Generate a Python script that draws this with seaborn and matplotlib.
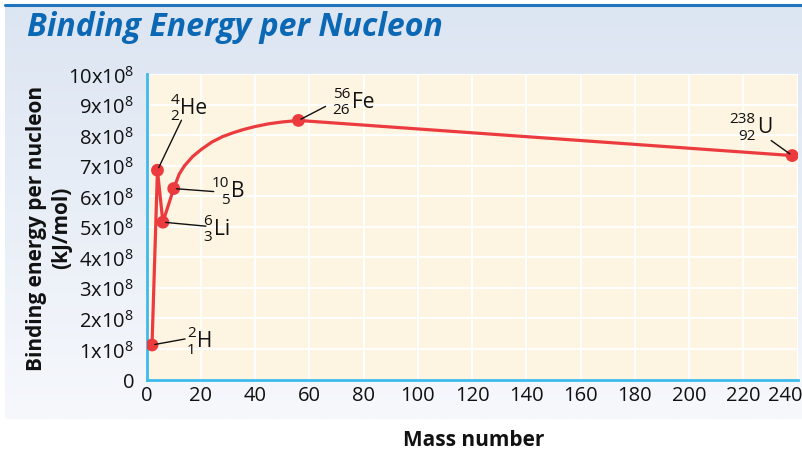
import numpy as np
import pandas as pd
import matplotlib
matplotlib.use("Agg")
import matplotlib.pyplot as plt
from matplotlib.lines import Line2D
from matplotlib.transforms import ScaledTranslation
import seaborn as sns

# Marked isotopes: mass number and binding energy per nucleon (x10^8 kJ/mol)
isotopes = ["H", "He", "Li", "B", "Fe", "U"]
mass_numbers = [2, 4, 6, 10, 56, 238]
atomic_numbers = [1, 2, 3, 5, 26, 92]
energies = [1.13, 6.85, 5.15, 6.25, 8.48, 7.33]

# Traced course of the curve between boron-10 and iron-56
curve_mass = [12, 14, 17, 20, 24, 28, 32, 36, 40, 45, 50]
curve_energy = [6.72, 7.00, 7.30, 7.52, 7.77, 7.95, 8.08, 8.19, 8.28, 8.37, 8.43]

x_ticks = list(range(0, 241, 20))
y_ticks = list(range(0, 11))
y_tick_labels = ["0"] + [f"${v}x10^{{8}}$" for v in range(1, 11)]

title = "Binding Energy per Nucleon"
x_label = "Mass number"
y_label = "Binding energy per nucleon\n(kJ/mol)"

sns.set_theme(style="white")
plt.rcParams["font.family"] = ["Open Sans", "DejaVu Sans"]
plt.rcParams["mathtext.default"] = "regular"

W, H = 803, 452
fig = plt.figure(figsize=(W / 100, H / 100), dpi=100)
fig.patch.set_facecolor("white")


def fx(px):
    return px / W


def fy(py):
    return 1 - py / H


# Gradient panel behind the chart
bg = fig.add_axes([fx(5), fy(420), fx(803 - 5), (420 - 6) / H], zorder=0)
top_c = np.array([220, 229, 242]) / 255
bot_c = np.array([246, 248, 252]) / 255
t = np.linspace(0, 1, 256)[:, None]
grad = (top_c[None, :] * (1 - t) + bot_c[None, :] * t)[:, None, :]
bg.imshow(grad, aspect="auto", extent=[0, 1, 0, 1], origin="upper")
bg.set_axis_off()
fig.add_artist(Line2D([fx(5), 1], [fy(6), fy(6)], color="#1f74bd", lw=2.2,
                      transform=fig.transFigure, zorder=2))

fig.text(fx(27), fy(28), title, fontsize=23, fontweight="bold", fontstyle="italic",
         color="#0b68b4", va="center", ha="left", zorder=3)

ax = fig.add_axes([fx(146.6), fy(380.5), fx(797.6 - 146.6), (380.5 - 75) / H], zorder=1)
ax.set_facecolor("#fdf4e1")

# Line path through the isotopes, with the traced stretch up to iron
path = pd.DataFrame({
    "mass": mass_numbers[:4] + curve_mass + mass_numbers[4:],
    "energy": energies[:4] + curve_energy + energies[4:],
})
pts = pd.DataFrame({"mass": mass_numbers, "energy": energies, "isotope": isotopes})

sns.lineplot(data=path, x="mass", y="energy", sort=False, estimator=None,
             color="#ec3b3e", lw=2.3, ax=ax, zorder=3)
sns.scatterplot(data=pts, x="mass", y="energy", color="#ec3b3e", s=85,
                edgecolor="none", ax=ax, zorder=4)

ax.set_xlim(0, 240)
ax.set_ylim(0, 10)
ax.set_xticks(x_ticks)
ax.set_yticks(y_ticks)
ax.set_yticklabels(y_tick_labels)
ax.grid(True, color="white", lw=1.4)
ax.set_axisbelow(True)
for s in ["top", "right"]:
    ax.spines[s].set_visible(False)
for s in ["left", "bottom"]:
    ax.spines[s].set_color("#3dbbec")
    ax.spines[s].set_linewidth(2)
ax.tick_params(axis="both", length=0, labelsize=14.5, colors="#111111")
ax.tick_params(axis="y", pad=9)
ax.tick_params(axis="x", pad=4)
ax.set_xlabel("")
ax.set_ylabel("")

# The last x label is nudged inwards so it stays on the canvas
xlabels = ax.get_xticklabels()
xlabels[-1].set_transform(xlabels[-1].get_transform() +
                          ScaledTranslation(-12 / 100, 0, fig.dpi_scale_trans))

fig.text(fx(474), fy(441), x_label, fontsize=15, fontweight="bold", color="#111111",
         ha="center", va="center")
fig.text(fx(49), fy(228), y_label, fontsize=15, fontweight="bold", color="#111111",
         ha="center", va="center", rotation=90, linespacing=1.3, multialignment="center")

# Isotope labels: (symbol left, symbol centre y, leader end) as pixel offsets from the point
K = 72 / 100
label_layout = {
    "H": ((45, -4), (33, -6)),
    "He": ((23, -63), (24, -50)),
    "Li": ((51, 6), (43, 4)),
    "B": ((57, 2), (40, 3)),
    "Fe": ((53, -19), (27, -14)),
    "U": ((-35, -29), (-21, -15)),
}
for name, m, z, e in zip(isotopes, mass_numbers, atomic_numbers, energies):
    (sx, sy), (lx, ly) = label_layout[name]
    ax.annotate("", xy=(m, e), xytext=(lx * K, -ly * K), textcoords="offset points",
                arrowprops=dict(arrowstyle="-", color="#111111", lw=1.0,
                                shrinkA=0, shrinkB=2), zorder=5)
    ax.annotate(name, xy=(m, e), xytext=(sx * K, -sy * K), textcoords="offset points",
                fontsize=15, color="#111111", ha="left", va="center",
                annotation_clip=False, zorder=6)
    ax.annotate(str(m), xy=(m, e), xytext=((sx - 1.5) * K, -(sy - 8) * K),
                textcoords="offset points", fontsize=11, color="#111111",
                ha="right", va="center", annotation_clip=False, zorder=6)
    ax.annotate(str(z), xy=(m, e), xytext=((sx - 1.5) * K, -(sy + 8.5) * K),
                textcoords="offset points", fontsize=11, color="#111111",
                ha="right", va="center", annotation_clip=False, zorder=6)

fig.savefig("out.png", dpi=100)
